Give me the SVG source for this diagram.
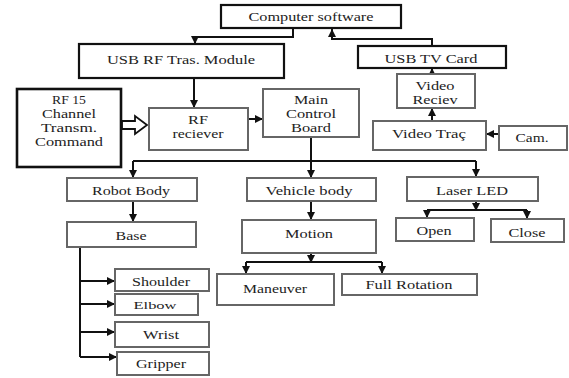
<svg xmlns="http://www.w3.org/2000/svg" width="569" height="378" viewBox="0 0 569 378">
<defs>
<marker id="ah" markerUnits="userSpaceOnUse" markerWidth="9" markerHeight="9" refX="8" refY="4" orient="auto">
<path d="M0,0 L8,4 L0,8 z" fill="#111"/>
</marker>
<style>
.b{fill:#fff;stroke:#666;stroke-width:2}
.s{fill:#fff;stroke:#111;stroke-width:2.2}
.t{font-family:'Liberation Serif','Times New Roman',serif;font-size:13.5px;fill:#222;text-anchor:middle}
.m{font-size:12px}
.c{fill:none;stroke:#111;stroke-width:2}
.a{fill:none;stroke:#111;stroke-width:2;marker-end:url(#ah)}
</style>
</defs>
<rect width="569" height="378" fill="#fff"/>
<g id="connectors">
<path class="a" d="M293,28 V37 H195 V44"/>
<path class="a" d="M432,46 V39 H332 V29"/>
<path class="a" d="M194,78 V108"/>
<polygon points="122,121 135,121 135,116 147,125 135,134 135,129 122,129" fill="#fff" stroke="#111" stroke-width="1.8"/>
<path class="a" d="M248,119 H263"/>
<path class="a" d="M432,74 V68"/>
<path class="a" d="M432,121 V108"/>
<path class="a" d="M499,134 H486"/>
<path class="a" d="M311,137 V178"/>
<path class="c" d="M133,161 H476"/>
<path class="a" d="M133,161 V178"/>
<path class="a" d="M476,161 V177"/>
<path class="a" d="M133,201 V222"/>
<path class="c" d="M80,243 V357"/>
<path class="a" d="M80,281 H115"/>
<path class="a" d="M80,304 H115"/>
<path class="a" d="M80,332 H115"/>
<path class="a" d="M80,357 H117"/>
<path class="a" d="M311,201 V220"/>
<path class="a" d="M311,253 V263"/>
<path class="c" d="M246,262 H382"/>
<path class="a" d="M246,262 V274"/>
<path class="a" d="M382,262 V274"/>
<path class="a" d="M476,201 V211"/>
<path class="c" d="M427,210 H527"/>
<path class="a" d="M427,210 V218"/>
<path class="a" d="M527,210 V219"/>
</g>
<g id="computer-software"><rect class="s" x="221" y="5" width="180" height="23"/><text class="t" x="311" y="21" textLength="125" lengthAdjust="spacingAndGlyphs">Computer software</text></g>
<g id="usb-rf"><rect class="s" x="79" y="44" width="205" height="34"/><text class="t" x="181" y="64" textLength="148" lengthAdjust="spacingAndGlyphs">USB RF Tras. Module</text></g>
<g id="usb-tv"><rect class="s" x="358" y="46" width="148" height="22"/><text class="t" x="431" y="63" textLength="93" lengthAdjust="spacingAndGlyphs">USB TV Card</text></g>
<g id="rf15"><rect class="s" x="17" y="89" width="104" height="78" style="stroke-width:2.6"/>
<text class="t m" x="69" y="104" textLength="34" lengthAdjust="spacingAndGlyphs">RF 15</text>
<text class="t m" x="69" y="118" textLength="54" lengthAdjust="spacingAndGlyphs">Channel</text>
<text class="t m" x="69" y="132" textLength="56" lengthAdjust="spacingAndGlyphs">Transm.</text>
<text class="t m" x="69" y="146" textLength="68" lengthAdjust="spacingAndGlyphs">Command</text></g>
<g id="rf-reciever"><rect class="b" x="149" y="108" width="99" height="42"/>
<text class="t m" x="198" y="124" textLength="20" lengthAdjust="spacingAndGlyphs">RF</text>
<text class="t m" x="198" y="138" textLength="51" lengthAdjust="spacingAndGlyphs">reciever</text></g>
<g id="main-control"><rect class="b" x="263" y="89" width="96" height="48"/>
<text class="t m" x="311" y="104" textLength="34" lengthAdjust="spacingAndGlyphs">Main</text>
<text class="t m" x="311" y="118" textLength="50" lengthAdjust="spacingAndGlyphs">Control</text>
<text class="t m" x="311" y="132" textLength="40" lengthAdjust="spacingAndGlyphs">Board</text></g>
<g id="video-reciev"><rect class="b" x="397" y="74" width="78" height="34"/>
<text class="t m" x="435" y="90" textLength="39" lengthAdjust="spacingAndGlyphs">Video</text>
<text class="t m" x="435" y="104" textLength="45" lengthAdjust="spacingAndGlyphs">Reciev</text></g>
<g id="video-trac"><rect class="b" x="373" y="121" width="113" height="29"/><text class="t" x="429" y="138" textLength="74" lengthAdjust="spacingAndGlyphs">Video Traç</text></g>
<g id="cam"><rect class="b" x="499" y="126" width="68" height="24"/><text class="t" x="532" y="142" textLength="33" lengthAdjust="spacingAndGlyphs">Cam.</text></g>
<g id="robot-body"><rect class="b" x="67" y="178" width="130" height="23"/><text class="t" x="131" y="195" textLength="78" lengthAdjust="spacingAndGlyphs">Robot Body</text></g>
<g id="vehicle-body"><rect class="b" x="247" y="178" width="129" height="23"/><text class="t" x="309" y="195" textLength="87" lengthAdjust="spacingAndGlyphs">Vehicle body</text></g>
<g id="laser-led"><rect class="b" x="407" y="177" width="131" height="24"/><text class="t" x="472" y="195" textLength="72" lengthAdjust="spacingAndGlyphs">Laser LED</text></g>
<g id="base"><rect class="b" x="67" y="222" width="129" height="25"/><text class="t" x="131" y="240" textLength="31" lengthAdjust="spacingAndGlyphs">Base</text></g>
<g id="motion"><rect class="b" x="242" y="220" width="134" height="33"/><text class="t" x="309" y="238" textLength="48" lengthAdjust="spacingAndGlyphs">Motion</text></g>
<g id="open"><rect class="b" x="396" y="218" width="78" height="23"/><text class="t" x="434" y="235" textLength="35" lengthAdjust="spacingAndGlyphs">Open</text></g>
<g id="close"><rect class="b" x="491" y="219" width="73" height="23"/><text class="t" x="527" y="237" textLength="37" lengthAdjust="spacingAndGlyphs">Close</text></g>
<g id="shoulder"><rect class="b" x="115" y="269" width="94" height="22"/><text class="t" x="161" y="286" textLength="58" lengthAdjust="spacingAndGlyphs">Shoulder</text></g>
<g id="elbow"><rect class="b" x="115" y="294" width="83" height="21"/><text class="t" x="155" y="309" textLength="43" lengthAdjust="spacingAndGlyphs" style="font-size:11px">Elbow</text></g>
<g id="wrist"><rect class="b" x="115" y="322" width="94" height="25"/><text class="t" x="161" y="339" textLength="36" lengthAdjust="spacingAndGlyphs">Wrist</text></g>
<g id="gripper"><rect class="b" x="117" y="352" width="92" height="23"/><text class="t" x="161" y="368" textLength="50" lengthAdjust="spacingAndGlyphs">Gripper</text></g>
<g id="maneuver"><rect class="b" x="217" y="274" width="117" height="31"/><text class="t" x="275" y="293" textLength="64" lengthAdjust="spacingAndGlyphs">Maneuver</text></g>
<g id="full-rotation"><rect class="b" x="342" y="274" width="135" height="21"/><text class="t" x="409" y="289" textLength="87" lengthAdjust="spacingAndGlyphs">Full Rotation</text></g>
</svg>
